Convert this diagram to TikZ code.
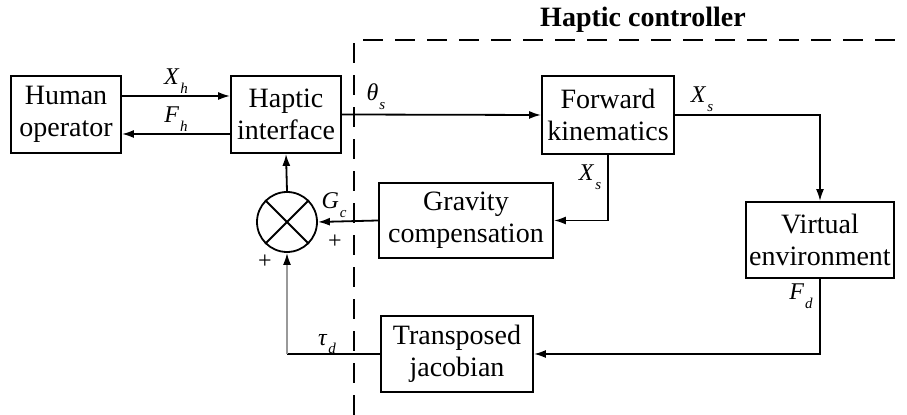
\documentclass[tikz,border=0pt]{standalone}
\usepackage{fontspec}
\setmainfont{Liberation Serif}
\usetikzlibrary{arrows.meta}

% Symbol mit tiefgestelltem Index
\newcommand{\vsym}[2]{\textit{#1}\kern0.5pt\raisebox{-0.8ex}{\fontsize{7.5}{8}\selectfont\textit{#2}}}

\begin{document}
\begin{tikzpicture}[
    x=0.5pt, y=-0.5pt,
    >={Latex[length=6pt,width=4pt]},
    every node/.style={font=\fontsize{14}{16}\selectfont},
    blk/.style={
        draw, line width=0.9pt, inner sep=0pt,
        align=center, fill=white
    },
    sigline/.style={->, line width=0.9pt},
    sym/.style={font=\fontsize{12}{13}\selectfont, inner sep=1pt},
    pm/.style={font=\fontsize{12}{13}\selectfont, inner sep=0pt}
]
\useasboundingbox (0,0) rectangle (907,415);

% Rahmen des Reglers
\draw[line width=0.9pt, dash pattern=on 10pt off 6pt] (354,415) -- (354,40) -- (907,40);
\node[font=\fontsize{14}{16}\selectfont\bfseries] (title) at (643,20) {Haptic controller};

% Bloecke
\node[blk, minimum width=55pt, minimum height=38.5pt] (human) at (66,114.5)
    {Human\\operator};
\node[blk, minimum width=55pt, minimum height=38.5pt] (haptic) at (286,114.5)
    {Haptic\\interface};
\node[blk, minimum width=66pt, minimum height=39pt] (fk) at (608,115)
    {Forward\\kinematics};
\node[blk, minimum width=74pt, minimum height=38pt] (ve) at (820,240)
    {Virtual\\environment};
\node[blk, minimum width=87pt, minimum height=37.5pt] (grav) at (466,220.5)
    {Gravity\\compensation};
\node[blk, minimum width=76pt, minimum height=38pt] (jac) at (457,354)
    {Transposed\\jacobian};

% Summierstelle
\node[draw, circle, line width=0.9pt, minimum size=30pt, inner sep=0pt] (sum) at (287,222) {};
\draw[line width=0.9pt] (sum.north west) -- (sum.south east);
\draw[line width=0.9pt] (sum.north east) -- (sum.south west);
\coordinate (tcorner) at (287,354);

% Signale Mensch <-> Interface
\draw[sigline] ([yshift=9.25pt]human.east) --
    node[sym, above] {\vsym{X}{h}} ([yshift=9.25pt]haptic.west);
\draw[sigline] ([yshift=-9.75pt]haptic.west) --
    node[sym, above] {\vsym{F}{h}} ([yshift=-9.75pt]human.east);

% Vorwaertszweig
\draw[sigline] (haptic.east) -- (fk.west);
\node[sym] (theta) at (376,97) {\vsym{θ}{s}};
\draw[sigline] (fk.east) -| (ve.north);
\node[sym] (xs1) at (702,99) {\vsym{X}{s}};
\draw[sigline] (fk.south) |- (grav.east);
\node[sym] (xs2) at (590,177) {\vsym{X}{s}};

% Rueckfuehrung
\draw[sigline] (grav.west) -- (sum.east);
\node[sym] (gc) at (334,205) {\vsym{G}{c}};
\draw[sigline] (sum.north) -- (haptic.south);
\draw[sigline] (ve.south) |- (jac.east);
\node[sym] (fd) at (801,296) {\vsym{F}{d}};
\draw[line width=0.9pt] (jac.west) -- (tcorner);
\draw[line width=0.9pt, black!40, arrows={-Latex[length=6pt,width=4pt,black]}] (tcorner) -- (sum.south);
\node[sym] (taud) at (327,344) {\vsym{τ}{d}};

% Vorzeichen
\node[pm] (plusr) at (335,242) {+};
\node[pm] (plusl) at (265,262) {+};

\end{tikzpicture}
\end{document}
